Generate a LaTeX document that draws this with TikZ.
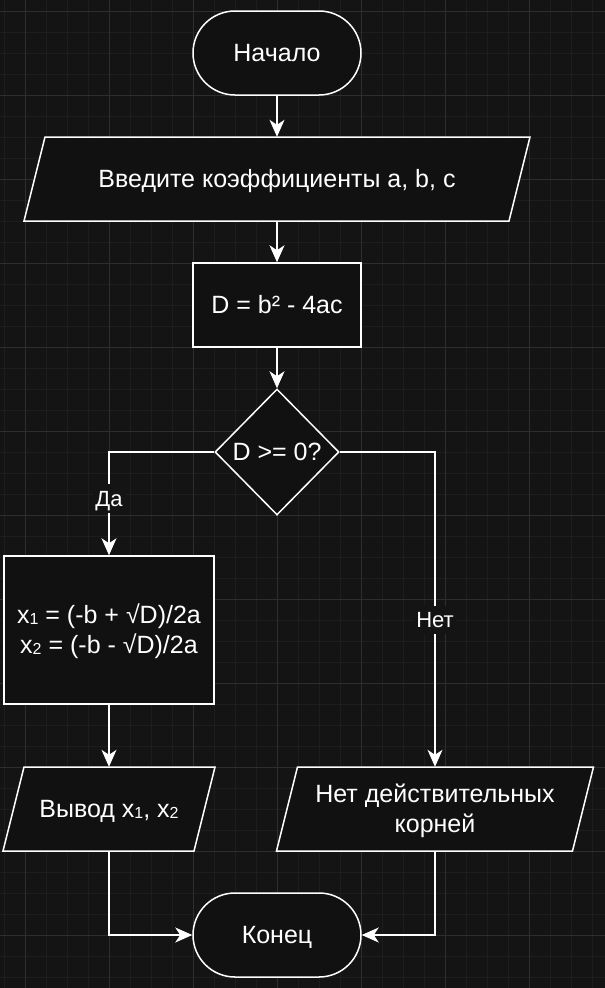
\documentclass[tikz,border=0pt]{standalone}
\usepackage{fontspec}
\setmainfont{Liberation Sans}
\usetikzlibrary{arrows.meta,shapes.geometric}
\definecolor{bgc}{RGB}{20,20,20}
\definecolor{gridminor}{RGB}{29,29,29}
\definecolor{gridmajor}{RGB}{46,46,46}
\definecolor{shapefill}{RGB}{17,17,17}
\newcommand{\ls}{\rule[-6.3pt]{0pt}{30pt}}
\newcommand{\sbs}[1]{\raisebox{-0.7pt}{\fontsize{16}{16}\selectfont #1}}
\newcommand{\iopath}[3]{%
  \draw[iobox] (#1-#3-10.5,#2+42) -- (#1+#3-10.5,#2+42) -- (#1+#3+10.5,#2-42) -- (#1-#3+10.5,#2-42) -- cycle;}
\begin{document}
\begin{tikzpicture}[x=1pt,y=-1pt,
  basetext/.style={text=white, inner sep=0pt, font=\fontsize{25}{30}\selectfont, align=center},
  shp/.style={basetext, draw=white, line width=1.5pt, fill=shapefill},
  term/.style={shp, rectangle, rounded corners=42pt, minimum width=168pt, minimum height=84pt},
  procbox/.style={shp, rectangle},
  decision/.style={shp, diamond, minimum width=124pt, minimum height=126pt},
  iotext/.style={basetext, rectangle, minimum height=84pt},
  iobox/.style={draw=white, line width=1.5pt, fill=shapefill},
  conn/.style={draw=white, line width=1.5pt, -{Stealth[length=17pt,width=15pt,inset=5pt]}},
  lbl/.style={fill=bgc, text=white, font=\fontsize{22}{26}\selectfont, inner xsep=2pt, inner ysep=1.5pt, text height=20.75pt, text depth=5pt}]
\useasboundingbox (0,0) rectangle (605,988);
\fill[bgc] (0,0) rectangle (605,988);
% grid
\foreach \k in {0,...,28} \draw[gridminor, line width=0.8pt] (4+21*\k,0) -- (4+21*\k,988);
\foreach \k in {0,...,46} \draw[gridminor, line width=0.8pt] (0,11.5+21*\k) -- (605,11.5+21*\k);
\foreach \k in {0,...,6} \draw[gridmajor, line width=0.9pt] (25+84*\k,0) -- (25+84*\k,988);
\foreach \k in {0,...,11} \draw[gridmajor, line width=0.9pt] (0,11.5+84*\k) -- (605,11.5+84*\k);
% shapes
\node[term] (start) at (277,53) {\ls Начало};
\iopath{277}{179}{242.5}
\node[iotext, minimum width=464pt] (inp) at (277,179) {\ls Введите коэффициенты a, b, c};
\node[procbox, minimum width=168pt, minimum height=84pt] (disc) at (277,305) {\ls D = b² - 4ac};
\node[decision] (dec) at (277,452) {\ls D >= 0?};
\node[procbox, minimum width=210pt, minimum height=148pt] (roots) at (109,630) {\ls x\sbs{1} = (-b + √D)/2a\\\ls x\sbs{2} = (-b - √D)/2a};
\iopath{109}{809}{95.5}
\node[iotext, minimum width=170pt] (outx) at (109,809) {\ls Вывод x\sbs{1}, x\sbs{2}};
\iopath{435}{809}{148}
\node[iotext, minimum width=276pt] (nores) at (435,809) {\ls Нет действительных\\\ls корней};
\node[term] (stop) at (277,935) {\ls Конец};
% connectors
\draw[conn] (start.south) -- (inp.north);
\draw[conn] (inp.south) -- (disc.north);
\draw[conn] (disc.south) -- (dec.north);
\draw[conn] (dec.west) -| (roots.north);
\draw[conn] (dec.east) -| (nores.north);
\draw[conn] (roots.south) -- (outx.north);
\draw[conn] (outx.south) |- (stop.west);
\draw[conn] (nores.south) |- (stop.east);
% labels
\node[lbl] (yes) at (109,498.5) {Да};
\node[lbl] (no) at (435,620) {Нет};
\end{tikzpicture}
\end{document}
